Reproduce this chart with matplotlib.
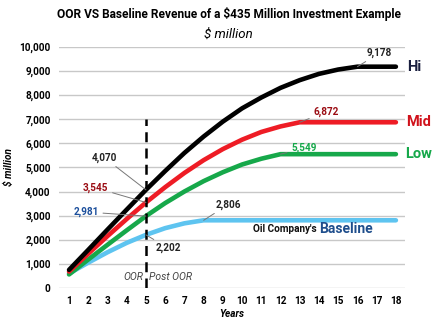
import matplotlib.pyplot as plt

years = list(range(1, 19))
hi = [750, 1580, 2420, 3250, 4070, 4850, 5600, 6280, 6900, 7450, 7900, 8300, 8620, 8880, 9060, 9178, 9178, 9178]
mid = [680, 1420, 2150, 2860, 3545, 4180, 4770, 5300, 5760, 6150, 6470, 6700, 6872, 6872, 6872, 6872, 6872, 6872]
low = [560, 1180, 1790, 2390, 2981, 3520, 4000, 4430, 4800, 5120, 5360, 5549, 5549, 5549, 5549, 5549, 5549, 5549]
baseline = [600, 1050, 1480, 1870, 2202, 2480, 2680, 2806, 2806, 2806, 2806, 2806, 2806, 2806, 2806, 2806, 2806, 2806]
yticks = list(range(0, 10001, 1000))

plt.rcParams['font.family'] = ['Roboto', 'DejaVu Sans']

fig = plt.figure(figsize=(4.44, 3.21), dpi=100)
ax = fig.add_axes([0.133, 0.103, 0.779, 0.751])

for g in yticks:
    ax.axhline(g, color="#c8c8c8", lw=1, zorder=0)

ax.plot(years, baseline, color="#5ec4f0", lw=3.3, solid_capstyle="round", zorder=3)
ax.plot(years, low, color="#16a84a", lw=3.3, solid_capstyle="round", zorder=4)
ax.plot(years, mid, color="#ee1c25", lw=3.3, solid_capstyle="round", zorder=5)
ax.plot(years, hi, color="black", lw=3.3, solid_capstyle="round", zorder=6)

# OOR / Post OOR divider
ax.plot([5, 5], [0, 7000], color="black", lw=1.8, ls=(0, (4, 2.5)), zorder=7)
ax.text(4.85, 450, "OOR", style="italic", color="#444444", fontsize=7.5, ha="right", va="center")
ax.text(5.15, 450, "Post OOR", style="italic", color="#444444", fontsize=7.5, ha="left", va="center")

def note(x, y, tx, ty, txt, color, ha="right"):
    ax.annotate(txt, xy=(x, y), xytext=(tx, ty), fontsize=7.2, fontweight="bold",
                color=color, ha=ha, va="center",
                arrowprops=dict(arrowstyle="-", color="#777777", lw=0.7,
                                shrinkA=1, shrinkB=0), zorder=8)

note(5, hi[4], 3.5, 5400, "4,070", "#222222")
note(5, mid[4], 3.05, 4150, "3,545", "#9b0d14")
note(5, low[4], 2.55, 3150, "2,981", "#1c4f9c")
note(5, baseline[4], 5.5, 1650, "2,202", "#222222", ha="left")
note(8, baseline[7], 8.6, 3450, "2,806", "#222222", ha="left")
note(13, mid[12], 13.7, 7300, "6,872", "#9b0d14", ha="left")
note(12, low[11], 12.55, 5800, "5,549", "#16a84a", ha="left")
note(16, hi[15], 16.5, 9750, "9,178", "#222222", ha="left")

ax.text(18.6, hi[-1], "Hi", color="#1a1f3f", fontsize=10.5, fontweight="bold", va="center")
ax.text(18.55, mid[-1], "Mid", color="#d0121b", fontsize=10.5, fontweight="bold", va="center")
ax.text(18.5, low[-1], "Low", color="#16a84a", fontsize=10.5, fontweight="bold", va="center")
ax.text(14.0, 2430, "Oil Company's ", color="#111111", fontsize=7.2, fontweight="bold", ha="right", va="center")
ax.text(14.0, 2430, "Baseline", color="#1f4e8c", fontsize=10, fontweight="bold", ha="left", va="center")

ax.set_xlim(0.48, 18.47)
ax.set_ylim(0, 10000)
ax.set_xticks(years)
ax.set_yticks(yticks)
ax.set_yticklabels([f"{v:,}" for v in yticks])
ax.tick_params(length=0, labelsize=7.2, pad=6)
for lbl in ax.get_xticklabels() + ax.get_yticklabels():
    lbl.set_fontweight("bold")
for s in ax.spines.values():
    s.set_visible(False)

ax.set_xlabel("Years", style="italic", fontweight="bold", fontsize=7.2, labelpad=2)
ax.set_ylabel("$ million", style="italic", fontweight="bold", fontsize=7.2, labelpad=4)

fig.text(0.515, 0.955, "OOR VS Baseline Revenue of a $435 Million Investment Example",
         ha="center", va="center", fontsize=8.6, fontweight="bold")
fig.text(0.515, 0.893, "$ million", ha="center", va="center", fontsize=9.5, style="italic")

fig.savefig("out.png", dpi=100)
